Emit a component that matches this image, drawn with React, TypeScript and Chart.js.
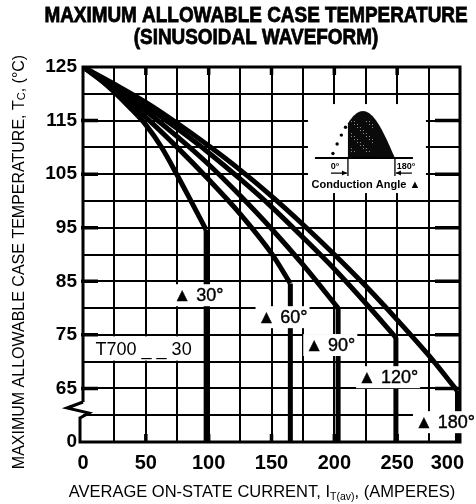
import React, { useEffect, useRef } from 'react';
import { Chart, registerables } from 'chart.js';

Chart.register(...registerables);

// ---- data ----
const angleNames = ['30°', '60°', '90°', '120°', '180°'];

const current30 = [0, 12, 25, 37, 50, 62, 75, 87, 98];
const temp30 = [125, 123, 120.3, 117.5, 114.2, 110.2, 104.8, 99.5, 94.6];

const current60 = [0, 25, 50, 75, 100, 125, 150, 165];
const temp60 = [125, 120.6, 115.6, 110, 104, 97.6, 90.2, 84.6];

const current90 = [0, 25, 50, 75, 100, 125, 150, 175, 203];
const temp90 = [125, 121.2, 116.8, 112, 106.8, 101, 94.8, 88.1, 80];

const current120 = [0, 25, 50, 75, 100, 125, 150, 175, 200, 225, 249];
const temp120 = [125, 121.5, 117.7, 113.5, 109, 104.1, 98.9, 93.2, 87.3, 80.9, 74.5];

const current180 = [0, 25, 50, 75, 100, 125, 150, 175, 200, 225, 250, 275, 298];
const temp180 = [125, 121.8, 118.4, 114.5, 110.3, 105.8, 100.9, 95.6, 90, 84.1, 77.8, 71.2, 64.5];

const curveCurrents = [current30, current60, current90, current120, current180];
const curveTemps = [temp30, temp60, temp90, temp120, temp180];

// temperature at which each "▲ angle" tag sits on its vertical drop line
const tagTemps = [82.4, 78.3, 73.1, 67.1, 58.7];

const xTickValues = [0, 50, 100, 150, 200, 250, 300];
const yTickValues = [125, 115, 105, 95, 85, 75, 65];
const yBreakValue = 55; // plotted bottom, labelled "0" (broken axis)
const yBreakLabel = '0';

const titleLines = ['MAXIMUM ALLOWABLE CASE TEMPERATURE', '(SINUSOIDAL WAVEFORM)'];
const partLabel = 'T700 _ _ 30';

const FONT = '"Liberation Sans", Arial, Helvetica, sans-serif';

const decoPlugin = {
  id: 'deco',
  beforeDatasetsDraw(chart: any) {
    const { ctx, chartArea: a, scales } = chart;
    const xs = scales.x;
    const ys = scales.y;
    ctx.save();

    // part number box (sits on the 70 gridline)
    const pl = xs.getPixelForValue(6);
    const pr = xs.getPixelForValue(92);
    const pt = ys.getPixelForValue(75) + 1.5;
    const pb = ys.getPixelForValue(70) - 1;
    ctx.fillStyle = '#fff';
    ctx.fillRect(pl, pt, pr - pl, pb - pt);
    ctx.fillStyle = '#000';
    ctx.font = `18px ${FONT}`;
    ctx.textAlign = 'left';
    ctx.textBaseline = 'alphabetic';
    ctx.fillText(partLabel, xs.getPixelForValue(10), pb - 5.5);

    // inset: conduction angle sketch
    const bx = xs.getPixelForValue(197.3);
    const by = ys.getPixelForValue(108);
    ctx.fillStyle = '#fff';
    ctx.fillRect(bx - 23, by - 54, 118, 89);
    const W = 64;
    const H = 47;
    const c0 = 17;
    ctx.strokeStyle = '#000';
    ctx.fillStyle = '#000';
    // dotted lead-in
    for (let t = 2; t < c0; t += 4.2) {
      const yy = by - H * Math.sin((Math.PI * t) / W);
      ctx.beginPath();
      ctx.arc(bx + t, yy, 1.7, 0, Math.PI * 2);
      ctx.fill();
    }
    // shaded conduction region
    ctx.beginPath();
    ctx.moveTo(bx + c0, by);
    for (let t = c0; t <= W; t += 1) {
      ctx.lineTo(bx + t, by - H * Math.sin((Math.PI * t) / W));
    }
    ctx.lineTo(bx + W, by);
    ctx.closePath();
    ctx.fillStyle = '#0a0a0a';
    ctx.fill();
    ctx.save();
    ctx.clip();
    ctx.fillStyle = '#9a9a9a';
    for (let yy = by - H + 10; yy < by - 5; yy += 3) {
      for (let xx = bx + c0 + 3; xx < bx + 42; xx += 3) {
        if (((xx * 7 + yy * 13) | 0) % 5 < 2) ctx.fillRect(xx, yy, 1, 1);
      }
    }
    ctx.restore();
    // baseline
    ctx.lineWidth = 2;
    ctx.strokeStyle = '#000';
    ctx.beginPath();
    ctx.moveTo(bx - 16, by);
    ctx.lineTo(bx + 82, by);
    ctx.stroke();
    // ticks and arrows
    ctx.lineWidth = 1.3;
    ctx.beginPath();
    ctx.moveTo(bx + c0, by);
    ctx.lineTo(bx + c0, by + 18);
    ctx.moveTo(bx + W, by);
    ctx.lineTo(bx + W, by + 18);
    ctx.moveTo(bx, by + 15);
    ctx.lineTo(bx + c0 - 1, by + 15);
    ctx.moveTo(bx + W + 17, by + 15);
    ctx.lineTo(bx + W + 1, by + 15);
    ctx.stroke();
    ctx.fillStyle = '#000';
    ctx.beginPath();
    ctx.moveTo(bx + c0 - 1, by + 15);
    ctx.lineTo(bx + c0 - 6, by + 12.5);
    ctx.lineTo(bx + c0 - 6, by + 17.5);
    ctx.closePath();
    ctx.fill();
    ctx.beginPath();
    ctx.moveTo(bx + W + 1, by + 15);
    ctx.lineTo(bx + W + 6, by + 12.5);
    ctx.lineTo(bx + W + 6, by + 17.5);
    ctx.closePath();
    ctx.fill();
    ctx.font = `bold 9px ${FONT}`;
    ctx.textAlign = 'center';
    ctx.textBaseline = 'middle';
    ctx.fillText('0°', bx + 4, by + 8);
    ctx.fillText('180°', bx + W + 11, by + 8);
    ctx.font = `bold 11px ${FONT}`;
    ctx.fillText('Conduction Angle ▲', bx + 35, by + 27);

    // heavy major tick marks inside frame
    ctx.lineWidth = 3.5;
    ctx.beginPath();
    xTickValues.forEach((v) => {
      if (v === 0 || v === 300) return;
      const px = xs.getPixelForValue(v);
      ctx.moveTo(px, a.top);
      ctx.lineTo(px, a.top + 8);
      ctx.moveTo(px, a.bottom);
      ctx.lineTo(px, a.bottom - 8);
    });
    yTickValues.forEach((v) => {
      if (v === 125) return;
      const py = ys.getPixelForValue(v);
      ctx.moveTo(a.left - 2, py);
      ctx.lineTo(a.left + 15, py);
      ctx.moveTo(a.right, py);
      ctx.lineTo(a.right - 25, py);
    });
    ctx.stroke();

    // frame with broken left axis
    ctx.lineWidth = 3;
    ctx.lineJoin = 'miter';
    ctx.beginPath();
    ctx.moveTo(a.left, a.bottom - 40);
    ctx.lineTo(a.left, a.top);
    ctx.lineTo(a.right, a.top);
    ctx.lineTo(a.right, a.bottom);
    ctx.lineTo(a.left - 3, a.bottom);
    ctx.lineTo(a.left - 3, a.bottom - 24);
    ctx.lineTo(a.left + 6, a.bottom - 29);
    ctx.lineTo(a.left - 16, a.bottom - 34);
    ctx.lineTo(a.left, a.bottom - 40);
    ctx.stroke();
    ctx.restore();
  },
  afterDatasetsDraw(chart: any) {
    const { ctx, scales } = chart;
    const xs = scales.x;
    const ys = scales.y;
    ctx.save();
    ctx.font = `18px ${FONT}`;
    ctx.textBaseline = 'middle';
    ctx.textAlign = 'left';
    ctx.strokeStyle = '#000';
    ctx.lineWidth = 0.4;
    angleNames.forEach((name, i) => {
      const cur = curveCurrents[i];
      const lx = xs.getPixelForValue(cur[cur.length - 1]);
      const ly = ys.getPixelForValue(tagTemps[i]);
      const num = name.replace('°', '');
      const numW = ctx.measureText(num).width;
      const tri = '▲ ';
      const triW = ctx.measureText(tri).width;
      const fullW = ctx.measureText(tri + name).width;
      let start = lx - numW / 2 - triW;
      if (start + fullW > 475) start = 475 - fullW;
      ctx.fillStyle = '#fff';
      ctx.fillRect(start - 2, ly - 11, fullW + 4, 22);
      ctx.fillStyle = '#000';
      ctx.fillText(tri + name, start, ly + 1);
      ctx.strokeText(tri + name, start, ly + 1);
    });
    ctx.restore();
  },
  afterDraw(chart: any) {
    const { ctx, chartArea: a, scales } = chart;
    const xs = scales.x;
    ctx.save();
    ctx.fillStyle = '#000';
    ctx.strokeStyle = '#000';
    // title
    ctx.font = `bold 22px ${FONT}`;
    ctx.textAlign = 'center';
    ctx.textBaseline = 'middle';
    ctx.lineWidth = 0.8;
    titleLines.forEach((t, i) => {
      ctx.save();
      ctx.translate(256, 16 + i * 22);
      ctx.scale(0.86, 1);
      ctx.fillText(t, 0, 0);
      ctx.strokeText(t, 0, 0);
      ctx.restore();
    });
    // x tick labels
    ctx.font = `bold 20px ${FONT}`;
    xTickValues.forEach((v) => {
      const s = String(v);
      const w = ctx.measureText(s).width;
      let cx = xs.getPixelForValue(v);
      if (cx + w / 2 > 464) cx = 464 - w / 2;
      ctx.fillText(s, cx, a.bottom + 21);
    });
    // x axis title with subscript
    const drawParts = (parts: { t: string; f: string; dy: number }[], cx: number, cy: number) => {
      let total = 0;
      parts.forEach((p) => {
        ctx.font = p.f;
        total += ctx.measureText(p.t).width;
      });
      let x = cx - total / 2;
      ctx.textAlign = 'left';
      ctx.textBaseline = 'alphabetic';
      parts.forEach((p) => {
        ctx.font = p.f;
        ctx.fillText(p.t, x, cy + p.dy);
        x += ctx.measureText(p.t).width;
      });
    };
    drawParts(
      [
        { t: 'AVERAGE ON-STATE CURRENT, I', f: `16.5px ${FONT}`, dy: 0 },
        { t: 'T(av)', f: `10.5px ${FONT}`, dy: 3 },
        { t: ', (AMPERES)', f: `16.5px ${FONT}`, dy: 0 },
      ],
      262,
      497
    );
    // y axis title rotated
    ctx.save();
    ctx.translate(24, 262);
    ctx.rotate(-Math.PI / 2);
    drawParts(
      [
        { t: 'MAXIMUM ALLOWABLE CASE TEMPERATURE, T', f: `16px ${FONT}`, dy: 0 },
        { t: 'C', f: `11px ${FONT}`, dy: 1 },
        { t: ', (°C)', f: `16px ${FONT}`, dy: 0 },
      ],
      0,
      0
    );
    ctx.restore();
    ctx.restore();
  },
};

export default function App() {
  const ref = useRef<HTMLCanvasElement>(null);
  useEffect(() => {
    if (!ref.current) return;
    const datasets: any[] = [];
    curveCurrents.forEach((cs, i) => {
      const ts = curveTemps[i];
      datasets.push({
        label: angleNames[i],
        data: cs.map((c, j) => ({ x: c, y: ts[j] })),
        borderColor: '#000',
        borderWidth: 5,
        pointRadius: 0,
        cubicInterpolationMode: 'monotone',
        borderJoinStyle: 'round',
        fill: false,
      });
      datasets.push({
        label: angleNames[i] + ' limit',
        data: [
          { x: cs[cs.length - 1], y: ts[ts.length - 1] },
          { x: cs[cs.length - 1], y: yBreakValue },
        ],
        borderColor: '#000',
        borderWidth: 5,
        pointRadius: 0,
        tension: 0,
        fill: false,
      });
    });
    const chart = new Chart(ref.current, {
      type: 'line',
      data: { datasets },
      plugins: [decoPlugin],
      options: {
        responsive: false,
        animation: false,
        events: [],
        layout: { padding: { top: 67, right: 16, left: 0, bottom: 0 } },
        plugins: { legend: { display: false }, tooltip: { enabled: false }, title: { display: false } },
        scales: {
          x: {
            type: 'linear',
            min: 0,
            max: 300,
            afterFit: (s: any) => {
              s.height = 62;
            },
            ticks: { stepSize: 25, display: false },
            grid: {
              color: '#000',
              lineWidth: (c: any) => (c.tick && (c.tick.value === 0 || c.tick.value === 300) ? 0 : 2),
              drawTicks: false,
            },
            border: { display: false },
          },
          y: {
            type: 'linear',
            min: yBreakValue,
            max: 125,
            afterFit: (s: any) => {
              s.width = 83;
            },
            ticks: {
              stepSize: 5,
              autoSkip: false,
              padding: 6,
              color: '#000',
              font: { family: FONT, size: 19, weight: 'bold' },
              callback: (v: any) => {
                if (v === yBreakValue) return yBreakLabel;
                return yTickValues.includes(v) ? String(v) : '';
              },
            },
            grid: {
              color: '#000',
              lineWidth: (c: any) => (c.tick && (c.tick.value === 125 || c.tick.value === yBreakValue) ? 0 : 2),
              drawTicks: false,
            },
            border: { display: false },
          },
        },
      } as any,
    });
    return () => chart.destroy();
  }, []);
  return (
    <div style={{ position: 'absolute', left: 0, top: 0, width: 476, height: 504, background: '#fff' }}>
      <canvas ref={ref} width={476} height={504} style={{ display: 'block', width: 476, height: 504 }} />
    </div>
  );
}
